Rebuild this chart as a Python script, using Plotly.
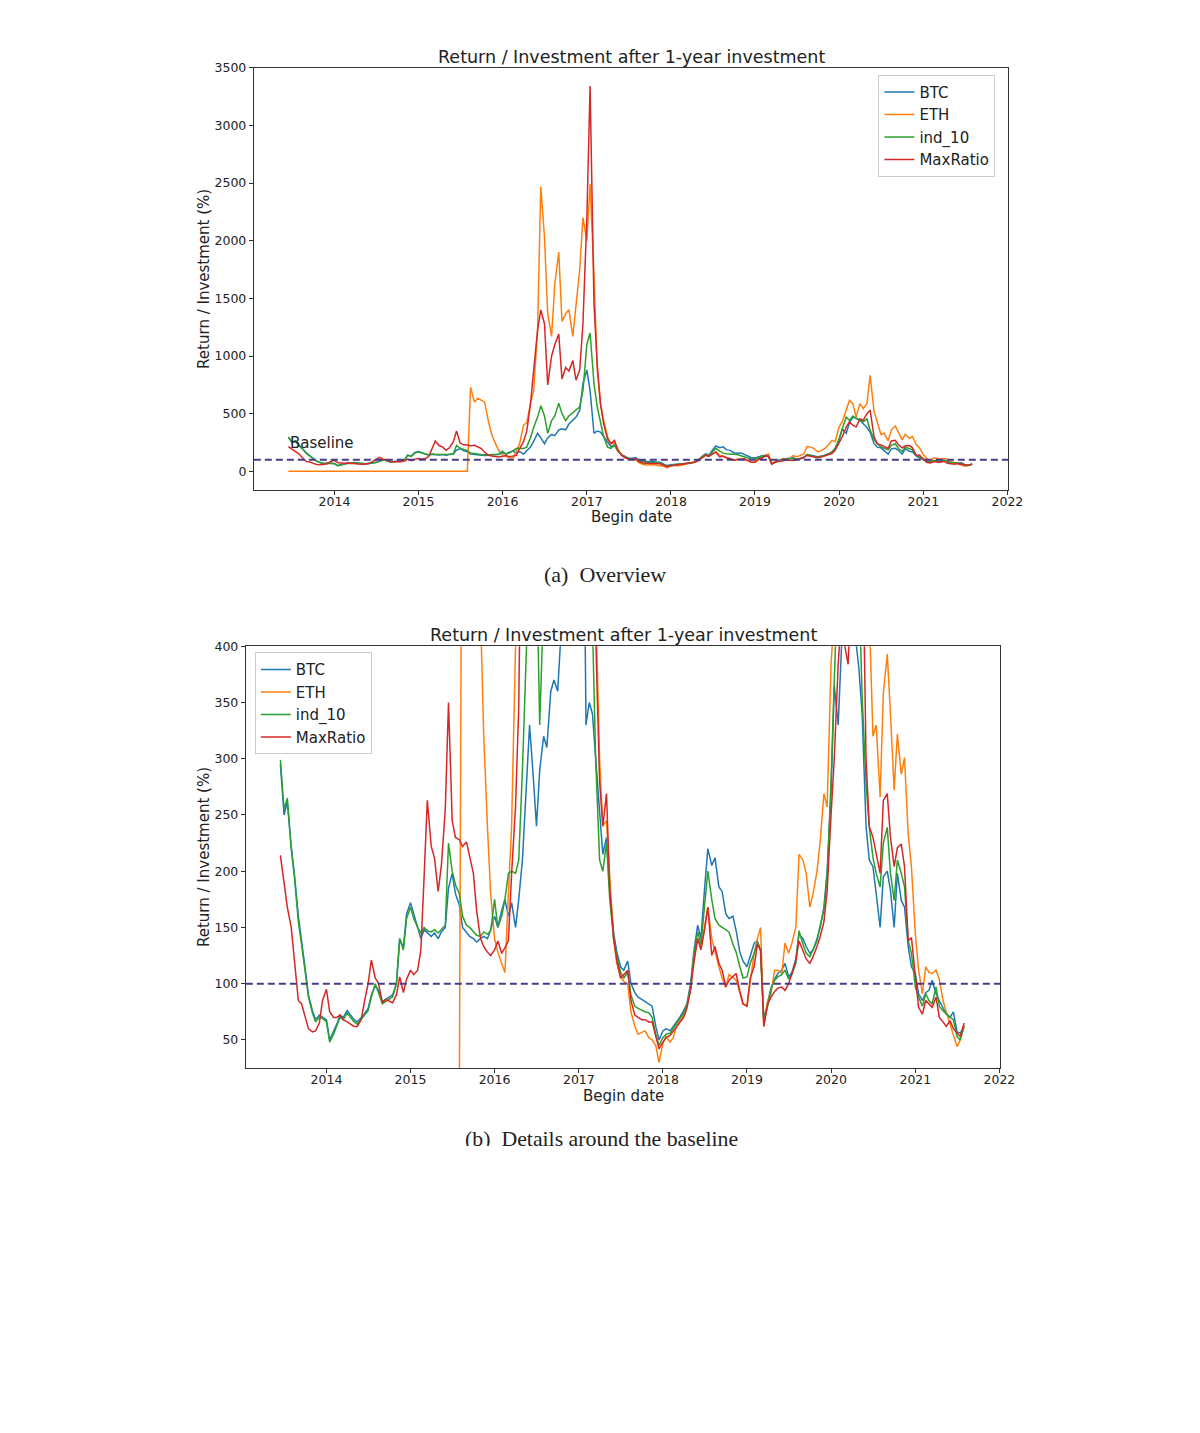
import pandas as pd
import plotly.graph_objects as go

# Begin dates of the 1-year investments (1st and 15th of every month)
dates = pd.date_range('2013-06-15', '2021-08-01', freq='SMS')

btc = [
    295, 250, 262, 222, 197, 160, 138, 112, 90, 76, 68, 72, 70,  # 2013
    68, 50, 57, 64, 72, 70, 76, 72, 68, 66, 70, 73, 78, 90, 98, 94, 84, 86, 88, 90, 100, 140, 132, 162,
    172, 162, 150, 140, 148, 145, 142, 145, 140, 146, 150, 185, 198, 180, 170, 150, 145, 142, 140, 137, 140, 142, 140, 148,
    160, 150, 165, 175, 160, 172, 150, 175, 210, 260, 330, 290, 240, 290, 320, 310, 360, 370, 360, 410, 440, 470, 530, 760,
    880, 700, 330, 350, 340, 300, 250, 215, 230, 185, 145, 128, 115, 112, 120, 100, 92, 88, 86, 84, 82, 80, 62, 50,
    58, 60, 58, 62, 66, 70, 76, 82, 100, 128, 152, 140, 185, 220, 205, 212, 186, 182, 162, 158, 160, 147, 128, 120,
    115, 125, 136, 138, 130, 68, 84, 96, 104, 109, 112, 118, 106, 110, 122, 144, 140, 133, 127, 130, 140, 150, 168, 200,
    270, 365, 330, 420, 470, 460, 440, 410, 380, 340, 240, 210, 204, 180, 150, 195, 200, 183, 150, 198, 174, 168, 133, 115,
    109, 91, 85, 92, 94, 103, 91, 85, 78, 73, 70, 75, 57, 56, 62,  # 2021
]

eth = [
    0, 0, 0, 0, 0, 0, 0, 0, 0, 0, 0, 0, 0,  # 2013
    0, 0, 0, 0, 0, 0, 0, 0, 0, 0, 0, 0, 0, 0, 0, 0, 0, 0, 0, 0, 0, 0, 0, 0,
    0, 0, 0, 0, 0, 0, 0, 0, 0, 0, 0, 0, 0, 0, 0, 730, 600, 635, 620, 600, 430, 320, 240, 180,
    140, 128, 118, 110, 180, 240, 400, 420, 590, 700, 1230, 2470, 2030, 1370, 1170, 1630, 1900, 1300, 1370, 1400, 1170, 1450, 1750, 2200,
    2000, 2490, 1700, 880, 590, 440, 300, 240, 245, 195, 140, 118, 106, 102, 100, 75, 62, 55, 57, 58, 52, 50, 45, 30,
    47, 53, 48, 52, 62, 66, 72, 80, 95, 125, 140, 132, 152, 168, 140, 128, 115, 105, 97, 108, 105, 103, 92, 82,
    80, 100, 127, 140, 150, 62, 85, 91, 112, 112, 109, 136, 127, 136, 150, 215, 210, 198, 168, 180, 200, 227, 269, 257,
    384, 430, 529, 615, 587, 471, 587, 543, 587, 832, 520, 420, 320, 330, 266, 358, 393, 340, 272, 322, 286, 301, 233, 204,
    144, 112, 91, 115, 110, 109, 112, 104, 85, 75, 64, 55, 44, 50, 63,  # 2021
]

ind_10 = [
    299, 255, 265, 220, 195, 155, 135, 108, 88, 74, 66, 70, 69,  # 2013
    66, 48, 55, 62, 70, 68, 74, 70, 66, 64, 68, 72, 76, 88, 100, 92, 82, 84, 86, 88, 100, 140, 130, 158,
    168, 158, 150, 145, 150, 147, 146, 148, 145, 148, 152, 225, 200, 188, 180, 160, 152, 150, 146, 143, 142, 146, 144, 147,
    175, 150, 160, 175, 198, 200, 198, 210, 290, 380, 470, 570, 480, 330, 440, 480, 590, 500, 440, 480, 510, 530, 560, 700,
    1100, 1200, 760, 560, 420, 300, 210, 200, 225, 175, 140, 125, 110, 105, 110, 90, 80, 78, 76, 75, 74, 70, 55, 45,
    52, 55, 56, 60, 64, 68, 74, 80, 96, 124, 146, 135, 170, 200, 175, 158, 152, 150, 148, 146, 135, 128, 115, 105,
    106, 118, 127, 136, 130, 67, 80, 95, 103, 106, 108, 112, 104, 108, 118, 147, 135, 127, 124, 130, 138, 152, 165, 195,
    280, 370, 470, 442, 480, 460, 440, 430, 456, 355, 278, 239, 212, 198, 186, 225, 239, 198, 174, 210, 198, 186, 138, 127,
    97, 88, 80, 91, 85, 82, 97, 80, 76, 73, 70, 68, 53, 50, 62,  # 2021
]

max_ratio = [
    214, 190, 168, 150, 118, 85, 82, 70, 60, 57, 58, 65, 85,  # 2013
    95, 75, 70, 70, 72, 68, 66, 64, 62, 62, 68, 84, 100, 121, 105, 100, 83, 86, 84, 83, 90, 106, 92, 104,
    112, 108, 112, 130, 195, 263, 222, 212, 182, 205, 255, 350, 245, 230, 228, 222, 226, 212, 198, 165, 140, 133, 128, 125,
    130, 138, 127, 132, 138, 198, 257, 346, 580, 875, 1222, 1400, 1280, 750, 1000, 1100, 1190, 800, 900, 870, 960, 790, 880, 1280,
    2200, 3340, 1450, 930, 590, 410, 280, 240, 269, 185, 140, 120, 105, 108, 112, 85, 72, 70, 68, 68, 66, 66, 52, 42,
    48, 52, 54, 58, 62, 66, 70, 78, 94, 118, 140, 130, 148, 168, 125, 133, 118, 112, 97, 103, 106, 109, 93, 82,
    80, 105, 115, 135, 130, 62, 82, 88, 93, 96, 97, 94, 100, 109, 120, 138, 130, 122, 118, 124, 133, 142, 155, 182,
    250, 300, 384, 428, 400, 384, 456, 442, 500, 530, 300, 240, 230, 215, 198, 263, 269, 230, 204, 221, 224, 204, 138, 141,
    109, 79, 73, 85, 82, 79, 88, 70, 66, 62, 67, 60, 56, 53, 65,  # 2021
]

series_names = ['BTC', 'ETH', 'ind_10', 'MaxRatio']
year_ticks = ['2014', '2015', '2016', '2017', '2018', '2019', '2020', '2021', '2022']
overview_yticks = [0, 500, 1000, 1500, 2000, 2500, 3000, 3500]
detail_yticks = [50, 100, 150, 200, 250, 300, 350, 400]
baseline = 100

colors = ['#1f77b4', '#ff7f0e', '#2ca02c', '#d62728']
W, H = 1184, 1410
FONT = 'DejaVu Sans'


# positions below are given in pixels of the target picture; the page shows the
# figure slightly shifted and scaled, so map them back into paper coordinates
def px(x):
    return (x - 7) / 0.988 / W


def py(y):
    return 1 - (y - 15.3) / 0.995 / H


fig = go.Figure()
values = [btc, eth, ind_10, max_ratio]
for axis, legend in (('', 'legend'), ('2', 'legend2')):
    for name, vals, color in zip(series_names, values, colors):
        fig.add_trace(go.Scatter(
            x=dates, y=vals, name=name, mode='lines',
            line=dict(color=color, width=1.5),
            xaxis='x' + axis, yaxis='y' + axis, legend=legend,
        ))

# caption of panel (b), cut at the bottom like in the source image
fig.add_trace(go.Scatter(
    x=[px(601)], y=[0.12], mode='text', text=['(b)\u00a0 Details around the baseline'],
    textfont=dict(family='Liberation Serif', size=21.8, color='#222'),
    cliponaxis=True, showlegend=False, hoverinfo='skip', xaxis='x3', yaxis='y3',
))

axis_style = dict(
    showline=True, mirror=True, linecolor='#333', linewidth=1,
    ticks='outside', ticklen=4, tickcolor='#333', showgrid=False, zeroline=False,
    tickfont=dict(family=FONT, size=12.5, color='#222'),
)
xdates = dict(type='date', range=['2013-01-16', '2022-01-05'], ticklabelstandoff=-4,
              tickvals=[y + '-01-01' for y in year_ticks], ticktext=year_ticks)

fig.update_layout(
    width=W, height=H,
    margin=dict(l=0, r=0, t=0, b=0),
    paper_bgcolor='white', plot_bgcolor='white',
    font=dict(family=FONT, color='#222'),
    xaxis=dict(domain=[px(253), px(1008)], anchor='y', **xdates, **axis_style),
    yaxis=dict(domain=[py(490), py(67)], anchor='x', range=[-165, 3500],
               tickvals=overview_yticks, **axis_style),
    xaxis2=dict(domain=[px(245), px(1000)], anchor='y2', **xdates, **axis_style),
    yaxis2=dict(domain=[py(1068), py(646)], anchor='x2', range=[25, 400],
                tickvals=detail_yticks, **axis_style),
    xaxis3=dict(domain=[0, 1], range=[0, 1], visible=False, anchor='y3'),
    yaxis3=dict(domain=[py(1146), py(1100)], range=[0, 1], visible=False, anchor='x3'),
    legend=dict(x=px(878), y=py(74), xanchor='left', yanchor='top',
                bgcolor='rgba(255,255,255,0.8)', bordercolor='#cccccc', borderwidth=1,
                font=dict(family=FONT, size=15)),
    legend2=dict(x=px(254), y=py(652), xanchor='left', yanchor='top',
                 bgcolor='rgba(255,255,255,0.8)', bordercolor='#cccccc', borderwidth=1,
                 font=dict(family=FONT, size=15)),
    showlegend=True,
)

for ref in ('', '2'):
    fig.add_shape(type='line', xref='x' + ref + ' domain', yref='y' + ref,
                  x0=0, x1=1, y0=baseline, y1=baseline,
                  line=dict(color='#483D8B', width=2, dash='7px,4px'))

title = 'Return / Investment after 1-year investment'
ylabel = 'Return / Investment (%)'
notes = [
    dict(text=title, x=px(630.5), y=py(56.5), size=17.5, font=FONT),
    dict(text=title, x=px(622.5), y=py(634.5), size=17.5, font=FONT),
    dict(text='Begin date', x=px(630.5), y=py(517), size=15, font=FONT),
    dict(text='Begin date', x=px(622.5), y=py(1096), size=15, font=FONT),
    dict(text='(a)\u00a0 Overview', x=px(604.5), y=py(574), size=22, font='Liberation Serif'),
]
for n in notes:
    fig.add_annotation(text=n['text'], x=n['x'], y=n['y'], xref='paper', yref='paper',
                       xanchor='center', yanchor='middle', showarrow=False,
                       font=dict(family=n['font'], size=n['size'], color='#222'))
for yc in (278.5, 857):
    fig.add_annotation(text=ylabel, x=px(203), y=py(yc), xref='paper', yref='paper',
                       textangle=-90, xanchor='center', yanchor='middle', showarrow=False,
                       font=dict(family=FONT, size=15, color='#222'))

fig.add_annotation(text='Baseline', x=dates[0], y=245, xref='x', yref='y',
                   xanchor='left', yanchor='middle', showarrow=False,
                   font=dict(family=FONT, size=15, color='#222'))

fig.write_html('out.html')
